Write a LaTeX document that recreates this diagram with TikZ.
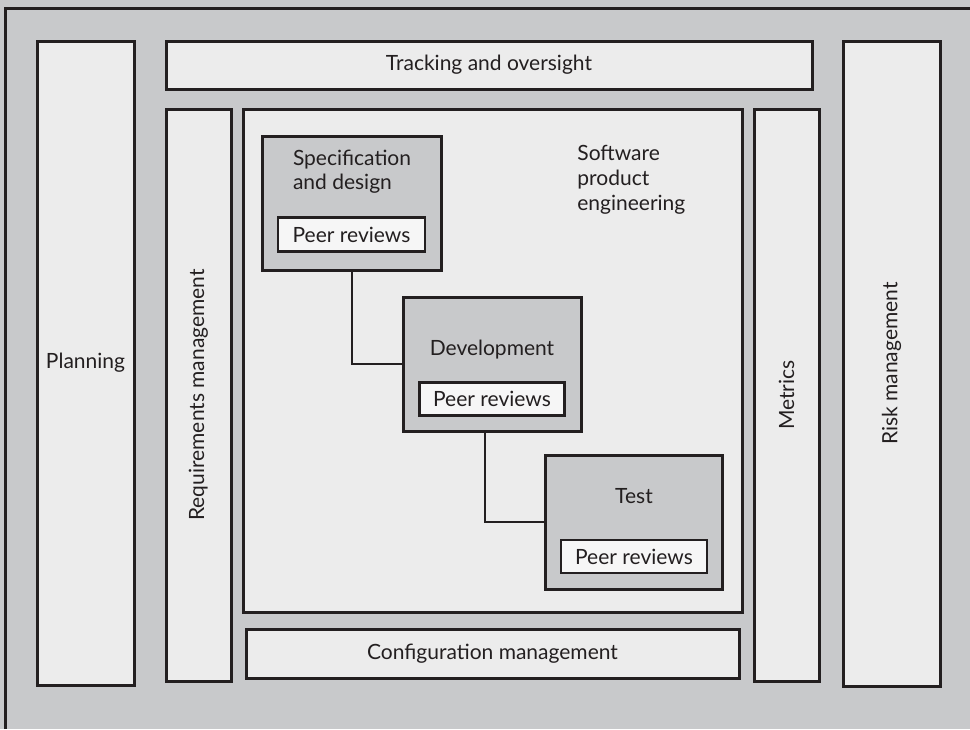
\documentclass[tikz,border=0pt]{standalone}
\usepackage{fontspec}
\setmainfont{Lato}
\usepackage{tikz}
\usetikzlibrary{positioning}

\definecolor{bggray}{HTML}{C8C9CB}
\definecolor{panelgray}{HTML}{ECECEC}
\definecolor{peerwhite}{HTML}{F6F6F6}
\definecolor{inkline}{HTML}{231F20}

\tikzset{
  panel/.style = {draw=inkline, line width=1.5pt, fill=panelgray,
    inner sep=0pt, font=\fontsize{10.5}{13}\selectfont, text=inkline},
  phase/.style = {panel, fill=bggray},
  peer/.style  = {panel, fill=peerwhite, line width=1.4pt},
  link/.style  = {draw=inkline, line width=1pt}
}

\begin{document}
\begin{tikzpicture}[x=0.5pt, y=-0.5pt]
  % background
  \fill [bggray] (0,0) rectangle (970,729);
  \useasboundingbox (0,0) rectangle (970,729);
  \draw [inkline, line width=1.5pt] (5,729) -- (5,8) -- (970,8);

  % outer ring of activities
  \node (plan) [panel, minimum width=48.5pt, minimum height=322pt] at (85.5,363) {Planning};
  \node (track) [panel, minimum width=323pt, minimum height=24pt] at (489,65) {Tracking and oversight};
  \node (req) [panel, rotate=90, minimum width=286pt, minimum height=32.5pt] at (198.5,395) {Requirements management};
  \node (conf) [panel, minimum width=246.5pt, minimum height=24.5pt] at (492.5,653.5) {Configuration management};
  \node (met) [panel, rotate=90, minimum width=286pt, minimum height=32.5pt] at (786.5,395) {Metrics};
  \node (risk) [panel, rotate=90, minimum width=322.5pt, minimum height=48.5pt] at (891.5,363.5) {Risk management};

  % software product engineering
  \node (spe) [panel, minimum width=249.5pt, minimum height=251.5pt] at (492.5,360.5) {};
  \node (spetext) [font=\fontsize{10.5}{12.5}\selectfont, text=inkline, align=left, anchor=north west, inner sep=0pt]
    at (577,145) {Software\\product\\engineering};

  \node (spec) [phase, minimum width=89.5pt, minimum height=67pt] at (351.5,203.5) {};
  \node (spectext) [font=\fontsize{10.5}{12}\selectfont, text=inkline, align=left, inner sep=0pt]
    at (352,172) {Specification\\and design};
  \node (specpeer) [peer, minimum width=73.5pt, minimum height=17pt] at (351.5,234.5) {Peer reviews};

  \node (dev) [phase, minimum width=89pt, minimum height=67pt] at (492,364) {};
  \node (devtext) [font=\fontsize{10.5}{12.5}\selectfont, text=inkline, inner sep=0pt] at (492,350) {Development};
  \node (devpeer) [peer, minimum width=72.5pt, minimum height=16.5pt] at (492,399) {Peer reviews};

  \node (test) [phase, minimum width=88.5pt, minimum height=67pt] at (633.5,522) {};
  \node (testtext) [font=\fontsize{10.5}{12.5}\selectfont, text=inkline, inner sep=0pt] at (634,496) {Test};
  \node (testpeer) [peer, minimum width=73pt, minimum height=16.5pt] at (634,556.5) {Peer reviews};

  % links between phases
  \path [link] (spec.south) |- (dev.west);
  \path [link] ([xshift=-3.5pt]dev.south) |- (test.west);
\end{tikzpicture}
\end{document}
